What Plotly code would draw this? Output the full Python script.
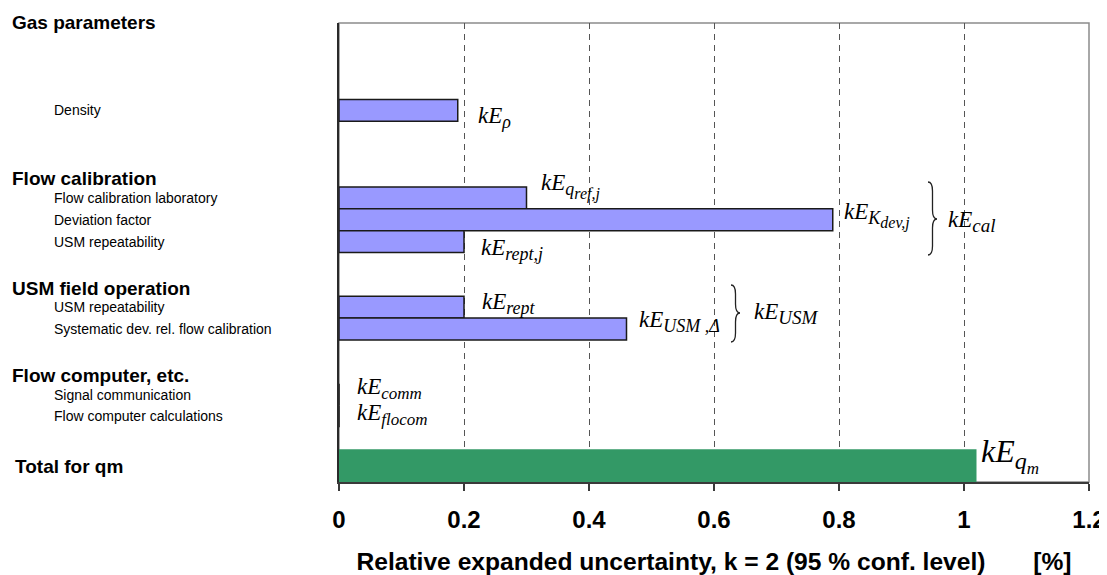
import plotly.graph_objects as go

# ---------------- data ----------------
group_headers = ["Gas parameters", "Flow calibration", "USM field operation", "Flow computer, etc."]

component_keys = ["Density", "Flow calibration laboratory", "Deviation factor",
                  "USM repeatability (cal)", "USM repeatability (field)",
                  "Systematic dev. rel. flow calibration",
                  "Signal communication", "Flow computer calculations"]
component_labels = ["Density", "Flow calibration laboratory", "Deviation factor",
                    "USM repeatability", "USM repeatability",
                    "Systematic dev. rel. flow calibration",
                    "Signal communication", "Flow computer calculations"]
component_values = [0.19, 0.30, 0.79, 0.20, 0.20, 0.46, 0.0, 0.0]

total_key = "Total for qm"
total_value = 1.02

# row order of the category axis (spacers are empty rows)
row_order = ["Gas parameters", "sp1", "sp2", "sp3", "Density", "sp4", "sp5",
             "Flow calibration", "Flow calibration laboratory", "Deviation factor",
             "USM repeatability (cal)", "sp6", "USM field operation",
             "USM repeatability (field)", "Systematic dev. rel. flow calibration", "sp7",
             "Flow computer, etc.", "Signal communication", "Flow computer calculations",
             "sp8", "Total for qm"]

x_ticks = [0, 0.2, 0.4, 0.6, 0.8, 1.0, 1.2]
x_tick_labels = ["0", "0.2", "0.4", "0.6", "0.8", "1", "1.2"]
x_title = "Relative expanded uncertainty, k = 2 (95 % conf. level)" + "\u00a0" * 7 + "[%]"


def sub(t, size=18):
    return f"<sub><span style='font-size:{size}px'>{t}</span></sub>"


def sub2(a, b, s1=18, s2=16):
    return f"<sub><span style='font-size:{s1}px'>{a}<sub><span style='font-size:{s2}px'>{b}</span></sub></span></sub>"


# symbol labels: (text, row key)
symbol_labels = [
    ("<i>kE" + sub("ρ") + "</i>", "Density"),
    ("<i>kE" + sub2("q", "ref,j") + "</i>", "Flow calibration laboratory"),
    ("<i>kE" + sub2("K", "dev,j") + "</i>", "Deviation factor"),
    ("<i>kE" + sub("rept,j") + "</i>", "USM repeatability (cal)"),
    ("<i>kE" + sub("rept") + "</i>", "USM repeatability (field)"),
    ("<i>kE" + sub("USM ,Δ") + "</i>", "Systematic dev. rel. flow calibration"),
    ("<i>kE" + sub("comm", 17) + "</i>", "Signal communication"),
    ("<i>kE" + sub("flocom", 17) + "</i>", "Flow computer calculations"),
]
symbol_xshift = [18, 12, 9, 15, 16, 10, 16, 16]
symbol_yshift = [-7, 11, 4, -8, 4, 8, 6, 2]

# ---------------- layout geometry (screen pixels, page has 8px body margin) ----------------
BODY = 8
PL, PR, PT, PB = 339, 1089, 23, 482      # plot area on screen
FW, FH = 1107 - BODY, 575 - BODY          # figure size
ML, MT = PL - BODY, PT - BODY
MR = FW - (PR - BODY)
MB = FH - (PB - BODY)
PW, PH = PR - PL, PB - PT


def px(xp):
    return (xp - PL) / PW


def py(yp):
    return (PB - yp) / PH


SANS = "Liberation Sans"
SERIF = "Liberation Serif"

fig = go.Figure()

fig.add_trace(go.Bar(
    x=component_values, y=component_keys, orientation="h", width=1,
    marker=dict(color="#9999FF", line=dict(color="#1a1a1a", width=1.5)),
    hoverinfo="x+y", showlegend=False))

fig.add_trace(go.Bar(
    x=[total_value], y=[total_key], orientation="h", width=1.5, offset=-0.5,
    marker=dict(color="#339966", line=dict(width=0)),
    hoverinfo="x+y", showlegend=False))

annotations = []

# left labels: sub items
for key, lab in zip(component_keys, component_labels):
    annotations.append(dict(text=lab, x=px(52), xref="paper", y=key, yref="y",
                            xanchor="left", yanchor="middle", showarrow=False,
                            font=dict(family=SANS, size=14, color="black")))

# group headers
header_yshift = [1, -2, -3, -3]
for hdr, ys in zip(group_headers, header_yshift):
    annotations.append(dict(text=hdr, x=px(10), xref="paper", y=hdr, yref="y",
                            xanchor="left", yanchor="middle", showarrow=False, yshift=ys,
                            font=dict(family=SANS, size=19, color="black", weight="bold")))
annotations.append(dict(text=total_key, x=px(13), xref="paper", y=total_key, yref="y",
                        xanchor="left", yanchor="middle", showarrow=False, yshift=-6,
                        font=dict(family=SANS, size=19, color="black", weight="bold")))

# symbol labels at bar ends
val_of = dict(zip(component_keys, component_values))
for (txt, key), xs, ys in zip(symbol_labels, symbol_xshift, symbol_yshift):
    annotations.append(dict(text=txt, x=val_of[key], xref="x", y=key, yref="y",
                            xanchor="left", yanchor="middle", showarrow=False,
                            xshift=xs, yshift=ys,
                            font=dict(family=SERIF, size=23, color="black")))

annotations.append(dict(text="<i>kE" + sub2("q", "m", 24, 17) + "</i>", x=total_value, xref="x",
                        y=total_key, yref="y", xanchor="left", yanchor="middle",
                        showarrow=False, xshift=2, yshift=5,
                        font=dict(family=SERIF, size=32, color="black")))

# group symbols next to braces
annotations.append(dict(text="<i>kE" + sub("cal", 19) + "</i>", x=px(946), xref="paper",
                        y="Deviation factor", yref="y", xanchor="left", yanchor="middle",
                        showarrow=False, yshift=-2,
                        font=dict(family=SERIF, size=23, color="black")))
annotations.append(dict(text="<i>kE" + sub("USM", 19) + "</i>", x=px(752), xref="paper",
                        y="USM repeatability (field)", yref="y", xanchor="left",
                        yanchor="middle", showarrow=False, yshift=-6,
                        font=dict(family=SERIF, size=23, color="black")))


def brace(xl, xr, yt, yb, ym, r=9):
    xc = (xl + xr) / 2
    pts = [
        ("M", [(xl, yt)]),
        ("Q", [(xc, yt), (xc, yt + r)]),
        ("L", [(xc, ym - r)]),
        ("Q", [(xc, ym), (xr, ym)]),
        ("Q", [(xc, ym), (xc, ym + r)]),
        ("L", [(xc, yb - r)]),
        ("Q", [(xc, yb), (xl, yb)]),
    ]
    s = ""
    for cmd, plist in pts:
        s += cmd + " " + " ".join(f"{px(a):.5f},{py(b):.5f}" for a, b in plist) + " "
    return s.strip()


shapes = [
    dict(type="rect", xref="paper", yref="paper", x0=0, x1=1, y0=0, y1=1,
         line=dict(color="#8c8c8c", width=1.5), layer="below"),
    dict(type="path", xref="paper", yref="paper", path=brace(928, 937, 182, 255, 219),
         line=dict(color="#222222", width=1.3)),
    dict(type="path", xref="paper", yref="paper", path=brace(731, 740, 285, 342, 313),
         line=dict(color="#222222", width=1.3)),
]

fig.update_layout(
    width=FW, height=FH, autosize=False,
    margin=dict(l=ML, r=MR, t=MT, b=MB, pad=0, autoexpand=False),
    paper_bgcolor="white", plot_bgcolor="white",
    barmode="overlay",
    showlegend=False,
    annotations=annotations,
    shapes=shapes,
    xaxis=dict(
        range=[0, 1.2], tickvals=x_ticks, ticktext=x_tick_labels,
        showgrid=True, gridcolor="#555555", gridwidth=1, griddash="6px,5px",
        zeroline=False, showline=True, linecolor="#3a3a3a", linewidth=2,
        ticks="outside", ticklen=7, tickcolor="#3a3a3a", tickwidth=1.5,
        tickfont=dict(family=SANS, size=24, color="black", weight="bold"),
        ticklabelstandoff=8, ticklabeloverflow="allow", automargin=False,
        title=dict(text=x_title, standoff=25,
                   font=dict(family=SANS, size=24.6, color="black", weight="bold")),
        fixedrange=True,
    ),
    yaxis=dict(
        type="category", categoryorder="array", categoryarray=row_order,
        range=[21, 0], autorange=False, automargin=False,
        showticklabels=False, ticks="", showgrid=False, zeroline=False,
        showline=True, linecolor="#2a2a2a", linewidth=2, fixedrange=True,
    ),
)

fig.write_html("out.html")
